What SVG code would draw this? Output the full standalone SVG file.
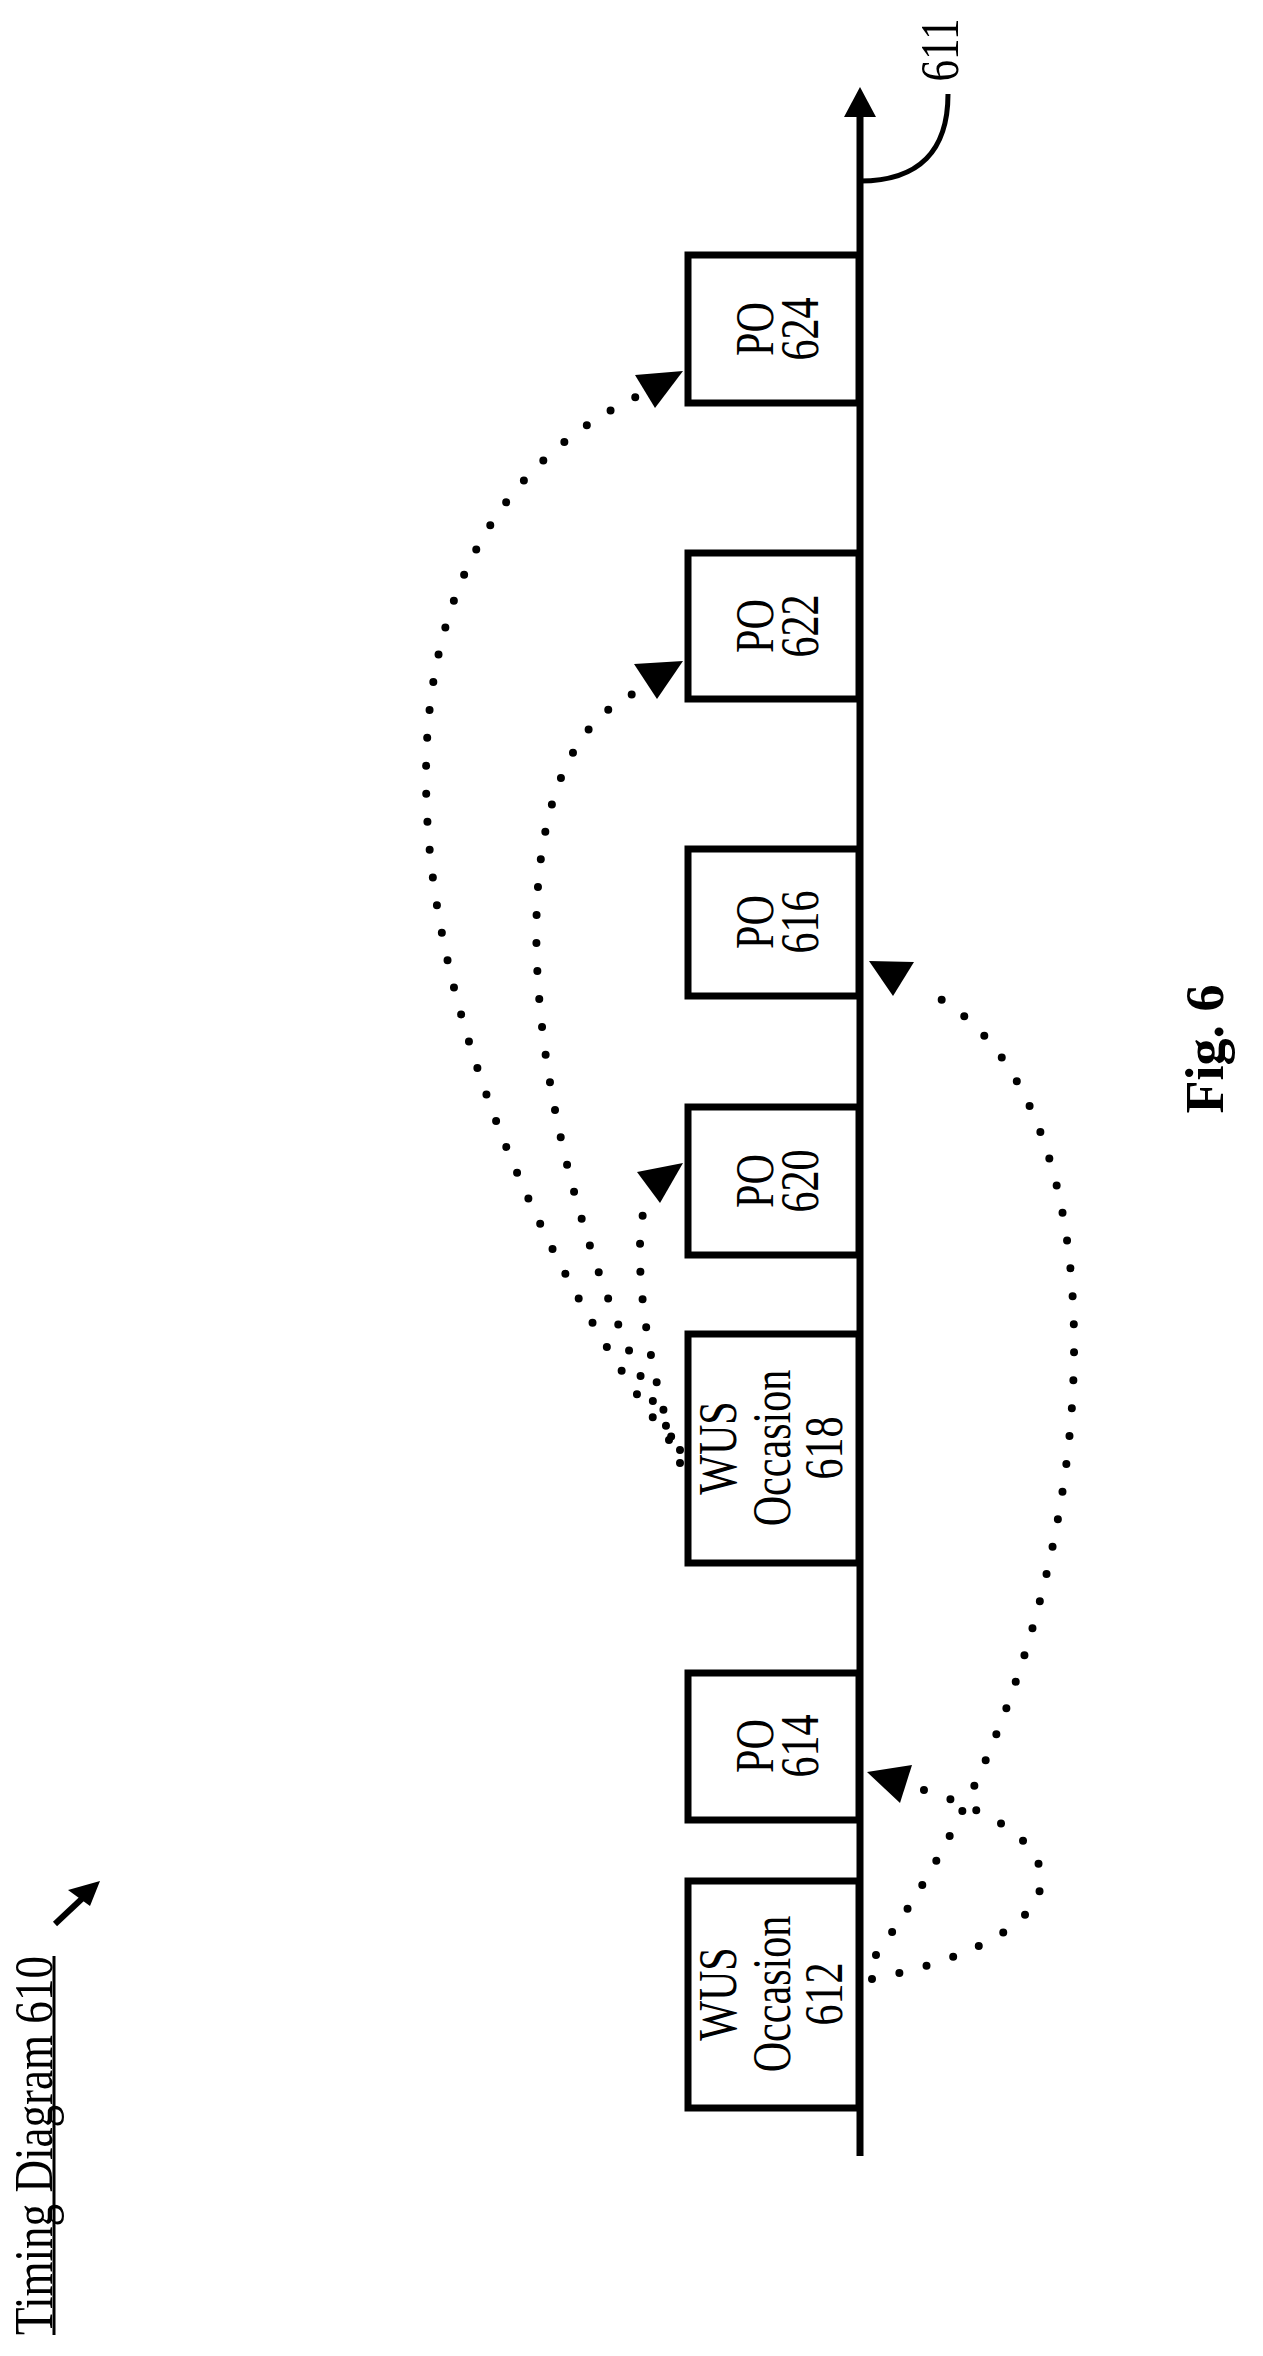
<svg xmlns="http://www.w3.org/2000/svg" width="1263" height="2356" viewBox="0 0 1263 2356">
<style>
.box{fill:#fff;stroke:#000;stroke-width:7}
.t{font-family:"Liberation Serif",serif;font-size:54px;fill:#000}
.dot{fill:none;stroke:#000;stroke-width:8;stroke-linecap:round;stroke-dasharray:0 28}
.ah{fill:#000}
</style>
<rect width="1263" height="2356" fill="#fff"/>
<g id="axis">
<line x1="860" y1="2156" x2="860" y2="110" stroke="#000" stroke-width="7"/>
<polygon class="ah" points="860,87 844,117 876,117"/>
<path d="M860 181 C920 181 948 150 948 94" fill="none" stroke="#000" stroke-width="5"/>
<text class="t" transform="translate(958,50) rotate(-90) scale(0.8,1)" text-anchor="middle" font-size="42">611</text>
</g>
<g id="title">
<text class="t" font-size="45" transform="translate(52,2335) rotate(-90)" textLength="379" lengthAdjust="spacingAndGlyphs">Timing Diagram 610</text>
<line x1="54" y1="1956" x2="54" y2="2335" stroke="#000" stroke-width="3"/>
<line x1="55" y1="1924" x2="88" y2="1893" stroke="#000" stroke-width="6"/>
<polygon class="ah" points="100,1881 68,1890 90,1906"/>
</g>
<g id="n612"><rect class="box" x="688" y="1881" width="171" height="227"/>
<text class="t" text-anchor="middle" transform="translate(736,1994) rotate(-90) scale(0.78,1)">WUS</text>
<text class="t" text-anchor="middle" transform="translate(790,1994) rotate(-90) scale(0.78,1)">Occasion</text>
<text class="t" text-anchor="middle" transform="translate(842,1994) rotate(-90) scale(0.78,1)">612</text></g>
<g id="n614"><rect class="box" x="688" y="1673" width="171" height="147"/>
<text class="t" text-anchor="middle" transform="translate(773,1746) rotate(-90) scale(0.78,1)">PO</text>
<text class="t" text-anchor="middle" transform="translate(818,1746) rotate(-90) scale(0.78,1)">614</text></g>
<g id="n618"><rect class="box" x="688" y="1334" width="171" height="229"/>
<text class="t" text-anchor="middle" transform="translate(736,1448) rotate(-90) scale(0.78,1)">WUS</text>
<text class="t" text-anchor="middle" transform="translate(790,1448) rotate(-90) scale(0.78,1)">Occasion</text>
<text class="t" text-anchor="middle" transform="translate(842,1448) rotate(-90) scale(0.78,1)">618</text></g>
<g id="n620"><rect class="box" x="688" y="1107" width="171" height="148"/>
<text class="t" text-anchor="middle" transform="translate(773,1181) rotate(-90) scale(0.78,1)">PO</text>
<text class="t" text-anchor="middle" transform="translate(818,1181) rotate(-90) scale(0.78,1)">620</text></g>
<g id="n616"><rect class="box" x="688" y="849" width="171" height="147"/>
<text class="t" text-anchor="middle" transform="translate(773,922) rotate(-90) scale(0.78,1)">PO</text>
<text class="t" text-anchor="middle" transform="translate(818,922) rotate(-90) scale(0.78,1)">616</text></g>
<g id="n622"><rect class="box" x="688" y="553" width="171" height="146"/>
<text class="t" text-anchor="middle" transform="translate(773,626) rotate(-90) scale(0.78,1)">PO</text>
<text class="t" text-anchor="middle" transform="translate(818,626) rotate(-90) scale(0.78,1)">622</text></g>
<g id="n624"><rect class="box" x="688" y="255" width="171" height="148"/>
<text class="t" text-anchor="middle" transform="translate(773,329) rotate(-90) scale(0.78,1)">PO</text>
<text class="t" text-anchor="middle" transform="translate(818,329) rotate(-90) scale(0.78,1)">624</text></g>
<g id="connectors">
<path class="dot" d="M872 1979 C960 1962 1048 1925 1041 1873 C1034 1830 970 1805 918 1788"/>
<polygon class="ah" points="867,1772 912,1765 900,1803"/>
<path class="dot" d="M876 1955 C1120 1620 1140 1100 928 992"/>
<polygon class="ah" points="869,961 914,962 893,996"/>
<path class="dot" d="M680 1463 C650 1380 630 1260 645 1205"/>
<polygon class="ah" points="683,1163 637,1172 660,1203"/>
<path class="dot" d="M680 1450 C540 1220 460 760 642 690"/>
<polygon class="ah" points="683,661 634,664 657,699"/>
<path class="dot" d="M669 1440 C420 1100 290 560 640 395"/>
<polygon class="ah" points="683,371 635,375 655,408"/>
</g>
<g id="fig">
<text class="t" font-size="95" font-weight="bold" text-anchor="middle" transform="translate(1223,1049) rotate(-90)">Fig. 6</text>
</g>
</svg>
